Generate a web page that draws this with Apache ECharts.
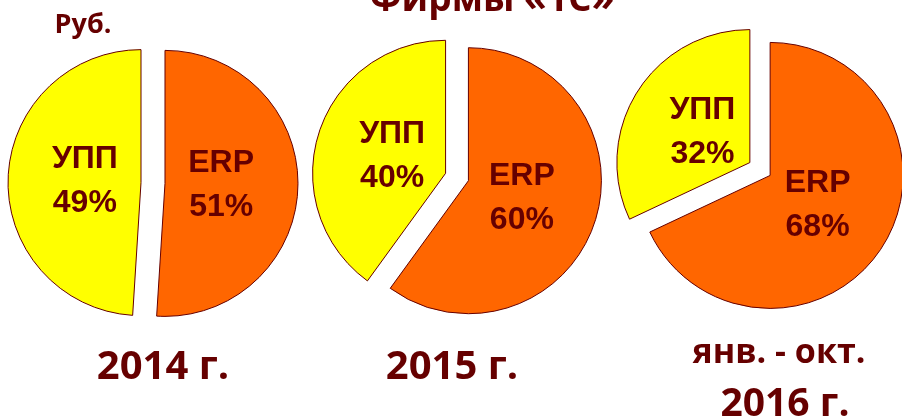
<!DOCTYPE html>
<html><head><meta charset="utf-8">
<script src="https://cdn.jsdelivr.net/npm/echarts@6/dist/echarts.min.js"></script>
<style>html,body{margin:0;padding:0;background:#fff}#c{width:902px;height:419px}</style>
</head><body><div id="c"></div>
<script>
const sliceNames = ['ERP', 'УПП'];
const erpShare = [51, 60, 68];
const uppShare = [49, 40, 32];
const yearLabels = ['2014 г.', '2015 г.', '2016 г.'];
const periodNote = 'янв. - окт.';
const unitLabel = 'Руб.';
const titleText = 'Фирмы «1С»';

const dark = '#660000';
const colors = ['#FF6600', '#FFFF00'];
const centers = [[153, 183], [457, 177], [760, 169]];
const R = 133;

const series = [];
for (let i = 0; i < 3; i++) {
  const data = [
    { name: sliceNames[0], value: erpShare[i], selected: true },
    { name: sliceNames[1], value: uppShare[i], selected: true }
  ];
  series.push({
    type: 'pie', center: centers[i], radius: [0, R], startAngle: 90, clockwise: true,
    selectedMode: 'multiple', selectedOffset: 12, animation: false, silent: true,
    itemStyle: { borderColor: dark, borderWidth: 1 },
    color: colors,
    label: { show: false }, labelLine: { show: false },
    emphasis: { disabled: true },
    data: data
  });
  series.push({
    type: 'pie', center: centers[i], radius: [0, R * 0.8], startAngle: 90, clockwise: true,
    selectedMode: 'multiple', selectedOffset: 12, animation: false, silent: true,
    itemStyle: { color: 'rgba(0,0,0,0)', borderWidth: 0 },
    label: { show: true, position: 'inside', formatter: '{b}\n{d}%',
      fontFamily: 'Liberation Sans', fontWeight: 'bold', fontSize: 32, lineHeight: 44, color: dark },
    labelLine: { show: false }, avoidLabelOverlap: false,
    emphasis: { disabled: true },
    data: data.map(d => Object.assign({}, d))
  });
}

const yearFont = { fontFamily: 'Open Sans', fontWeight: 'bold', color: dark };
const chart = echarts.init(document.getElementById('c'), null, { renderer: 'canvas' });
chart.setOption({
  animation: false,
  backgroundColor: '#fff',
  title: [
    { text: titleText, left: 487, top: -23, textAlign: 'center', textStyle: Object.assign({ fontSize: 37 }, yearFont) },
    { text: unitLabel, left: 78, top: 7, textAlign: 'center', textStyle: Object.assign({ fontSize: 27 }, yearFont) },
    { text: yearLabels[0], left: 158, top: 343, textAlign: 'center', textStyle: Object.assign({ fontSize: 40 }, yearFont) },
    { text: yearLabels[1], left: 447, top: 343, textAlign: 'center', textStyle: Object.assign({ fontSize: 40 }, yearFont) },
    { text: periodNote, left: 774, top: 331, textAlign: 'center', textStyle: Object.assign({ fontSize: 34 }, yearFont) },
    { text: yearLabels[2], left: 780, top: 380, textAlign: 'center', textStyle: Object.assign({ fontSize: 39 }, yearFont) }
  ],
  series: series
});
</script></body></html>
